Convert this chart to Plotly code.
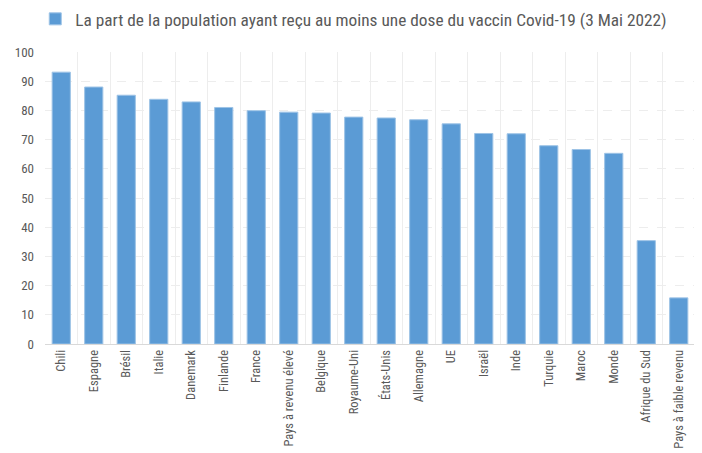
import plotly.graph_objects as go

categories = ["Chili", "Espagne", "Brésil", "Italie", "Danemark", "Finlande", "France",
              "Pays à revenu élevé", "Belgique", "Royaume-Uni", "États-Unis", "Allemagne",
              "UE", "Israël", "Inde", "Turquie", "Maroc", "Monde", "Afrique du Sud",
              "Pays à faible revenu"]
values = [93.1, 88.0, 85.2, 83.8, 82.9, 81.0, 79.9, 79.4, 79.1, 77.7, 77.4, 76.8,
          75.4, 72.1, 72.0, 67.9, 66.6, 65.3, 35.4, 15.8]
series_name = "La part de la population ayant reçu au moins une dose du vaccin Covid-19 (3 Mai 2022)"
y_ticks = [0, 10, 20, 30, 40, 50, 60, 70, 80, 90, 100]

FONT = "Liberation Sans Narrow, Roboto Condensed, Noto Sans"

fig = go.Figure(go.Bar(
    x=categories, y=values, name=series_name,
    marker=dict(color="#5B9BD5", line=dict(color="#9DC3E6", width=1)),
    width=0.56,
))

fig.update_layout(
    width=694, height=445,
    margin=dict(l=37, r=7, t=44, b=109, autoexpand=False),
    plot_bgcolor="white", paper_bgcolor="white",
    font=dict(family=FONT, color="#595959"),
    showlegend=True,
    legend=dict(orientation="h", x=-0.015, xanchor="left", y=0.975, yanchor="middle",
                yref="container", font=dict(family=FONT, size=17.3, color="#595959"),
                itemwidth=30),
)
fig.update_xaxes(
    automargin=False,
    tickangle=-90, tickfont=dict(family=FONT, size=12.5, color="#595959"),
    tickson="boundaries", showgrid=True, gridcolor="#EDEDED", gridwidth=1,
    showline=True, linecolor="#D9D9D9", linewidth=1, ticks="",
    range=[-0.5, len(categories) - 0.5],
)
fig.update_yaxes(
    automargin=False,
    range=[0, 100], tickvals=y_ticks, tickfont=dict(family=FONT, size=13, color="#595959"),
    showgrid=True, gridcolor="#EDEDED", griddash="dash", gridwidth=1,
    zeroline=False, showline=False, ticks="", ticklabelstandoff=10,
)
fig.write_html("out.html")
